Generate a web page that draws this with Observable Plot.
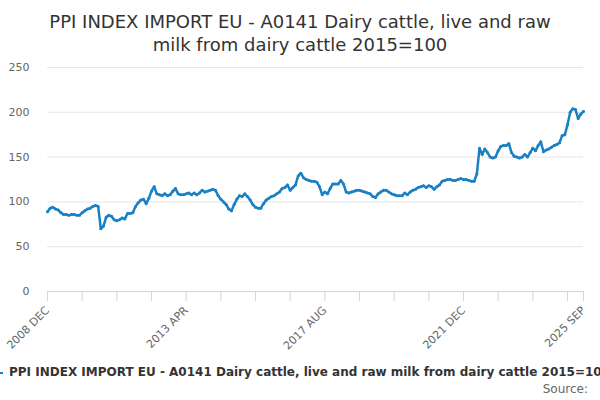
<!DOCTYPE html>
<html><head><meta charset="utf-8">
<script src="https://cdn.jsdelivr.net/npm/d3@7"></script>
<script src="https://cdn.jsdelivr.net/npm/@observablehq/plot@0.6"></script>
<style>
body{margin:0;background:#fff;font-family:"DejaVu Sans",sans-serif;}
#wrap{position:relative;width:600px;height:400px;overflow:hidden;background:#fff;}
#title{position:absolute;top:10px;left:0;width:600px;text-align:center;font-size:18px;line-height:23px;color:#333;}
#chart{position:absolute;top:56px;left:0;}
#legend{position:absolute;top:364px;left:-13px;white-space:nowrap;font-size:12px;font-weight:bold;color:#333;line-height:16px;}
#legend svg{vertical-align:middle;margin-right:6px;}
#source{position:absolute;top:382px;right:12px;font-size:12px;color:#666;}
</style></head><body>
<div id="wrap">
<div id="title">PPI INDEX IMPORT EU - A0141 Dairy cattle, live and raw<br>milk from dairy cattle 2015=100</div>
<div id="chart"></div>
<div id="legend"><svg width="16" height="12"><line x1="0" y1="6" x2="16" y2="6" stroke="#1a80c4" stroke-width="2"/></svg>PPI INDEX IMPORT EU - A0141 Dairy cattle, live and raw milk from dairy cattle 2015=100</div>
<div id="source">Source:</div>
</div>
<script>
const seriesName = "PPI INDEX IMPORT EU - A0141 Dairy cattle, live and raw milk from dairy cattle 2015=100";
const startYear = 2008, startMonthIndex = 11; // 2008 DEC
const monthNames = ["JAN","FEB","MAR","APR","MAY","JUN","JUL","AUG","SEP","OCT","NOV","DEC"];
const values = [
  89,93,94,92,91,88,86,86,85,86, 86,85,85,88,90,92,93,95,96,95,
  70,73,83,85,84,80,79,80,82,81, 87,87,88,95,99,102,103,98,104,112,
  117,109,108,107,109,107,108,112,115,109, 108,108,109,110,108,110,108,110,113,111,
  112,113,114,113,107,103,100,97,92,90, 97,103,107,106,109,106,102,97,94,93,
  93,98,102,104,106,107,109,111,115,116, 119,113,116,119,129,132,127,125,124,123,
  123,122,117,108,111,109,115,120,120,120, 124,120,111,110,111,112,113,113,112,111,
  110,109,106,105,109,111,113,113,111,109, 108,107,107,107,110,108,111,113,114,116,
  117,118,116,118,117,114,117,119,123,124, 125,125,124,124,125,126,125,125,124,123,
  123,131,160,153,159,155,150,149,150,157, 162,163,163,165,155,151,150,149,150,153,
  150,155,160,157,163,167,156,158,159,161, 163,164,166,174,175,186,200,204,203,193,
  198,201
];
const yTicks = [0,50,100,150,200,250];
const tickLabels = ["2008 DEC","2013 APR","2017 AUG","2021 DEC","2025 SEP"];
const tickStep = 13;

const categories = values.map((_, i) => {
  const m = startMonthIndex + i;
  return `${startYear + Math.floor(m / 12)} ${monthNames[m % 12]}`;
});
const data = values.map((v, i) => ({i, category: categories[i], value: v}));
const tickIdx = d3.range(0, categories.length, tickStep).concat([categories.length - 1]);

const chart = Plot.plot({
  width: 600, height: 300,
  marginTop: 11, marginBottom: 65, marginLeft: 47, marginRight: 17,
  style: {fontFamily: "DejaVu Sans", fontSize: "11px", color: "#666", background: "transparent"},
  x: {domain: [0, categories.length - 1], axis: null, label: null},
  y: {domain: [0, 250], axis: null, label: null},
  marks: [
    Plot.gridY(yTicks.filter(d => d > 0), {stroke: "#e6e6e6", strokeOpacity: 1}),
    Plot.axisY(yTicks, {tickSize: 0, tickPadding: 18, fill: "#666", label: null}),
    Plot.ruleY([0], {stroke: "#ccd6eb"}),
    Plot.axisX(tickIdx, {
      tickSize: 10, stroke: "#ccd6eb", strokeOpacity: 1, tickRotate: -45, tickPadding: 7,
      fill: "#666", label: null,
      tickFormat: i => tickLabels.includes(categories[i]) ? categories[i] : ""
    }),
    Plot.line(data, {x: "i", y: "value", stroke: "#1a80c4", strokeWidth: 2.5}),
    Plot.dot(data, {x: "i", y: "value", r: 1.5, fill: "#1a80c4"})
  ]
});
document.getElementById("chart").appendChild(chart);
</script>
</body></html>
